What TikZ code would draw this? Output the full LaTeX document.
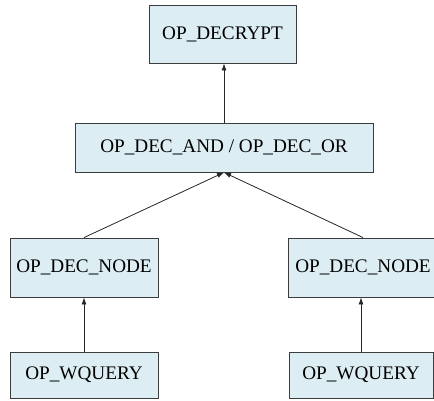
\documentclass[tikz,border=0pt]{standalone}
\usepackage{fontspec}
\setmainfont{Liberation Serif}
\usetikzlibrary{arrows.meta}
\definecolor{boxfill}{RGB}{220,237,243}
\definecolor{boxline}{RGB}{60,60,60}
\begin{document}
\begin{tikzpicture}[x=1pt,y=-1pt,
  opbox/.style={draw=boxline,fill=boxfill,line width=0.9pt,inner sep=0pt,
    font=\fontsize{19.2}{22}\selectfont,align=center},
  arr/.style={-{Latex[length=7pt,width=5pt]},line width=0.8pt,draw=black!85}]
\clip (0,0) rectangle (434,400);
\useasboundingbox (0,0) rectangle (434,400);
\node[opbox,minimum width=147pt,minimum height=58pt] (dec) at (222.5,34) {OP\_DECRYPT};
\node[opbox,minimum width=298pt,minimum height=49pt] (mid) at (224,147.5) {OP\_DEC\_AND / OP\_DEC\_OR};
\node[opbox,minimum width=148pt,minimum height=59pt] (ln) at (84,267.5) {OP\_DEC\_NODE};
\node[opbox,minimum width=150pt,minimum height=59pt] (rn) at (363,267.5) {OP\_DEC\_NODE};
\node[opbox,minimum width=148pt,minimum height=46pt] (lq) at (84,375) {OP\_WQUERY};
\node[opbox,minimum width=144pt,minimum height=46pt] (rq) at (361,375) {OP\_WQUERY};
\draw[arr] (mid.north) -- (mid.north |- dec.south);
\draw[arr] (ln.north) -- (mid.south);
\draw[arr] (rn.north) -- (mid.south);
\draw[arr] (lq.north) -- (ln.south);
\draw[arr] (rq.north) -- (rq.north |- rn.south);
\end{tikzpicture}
\end{document}
